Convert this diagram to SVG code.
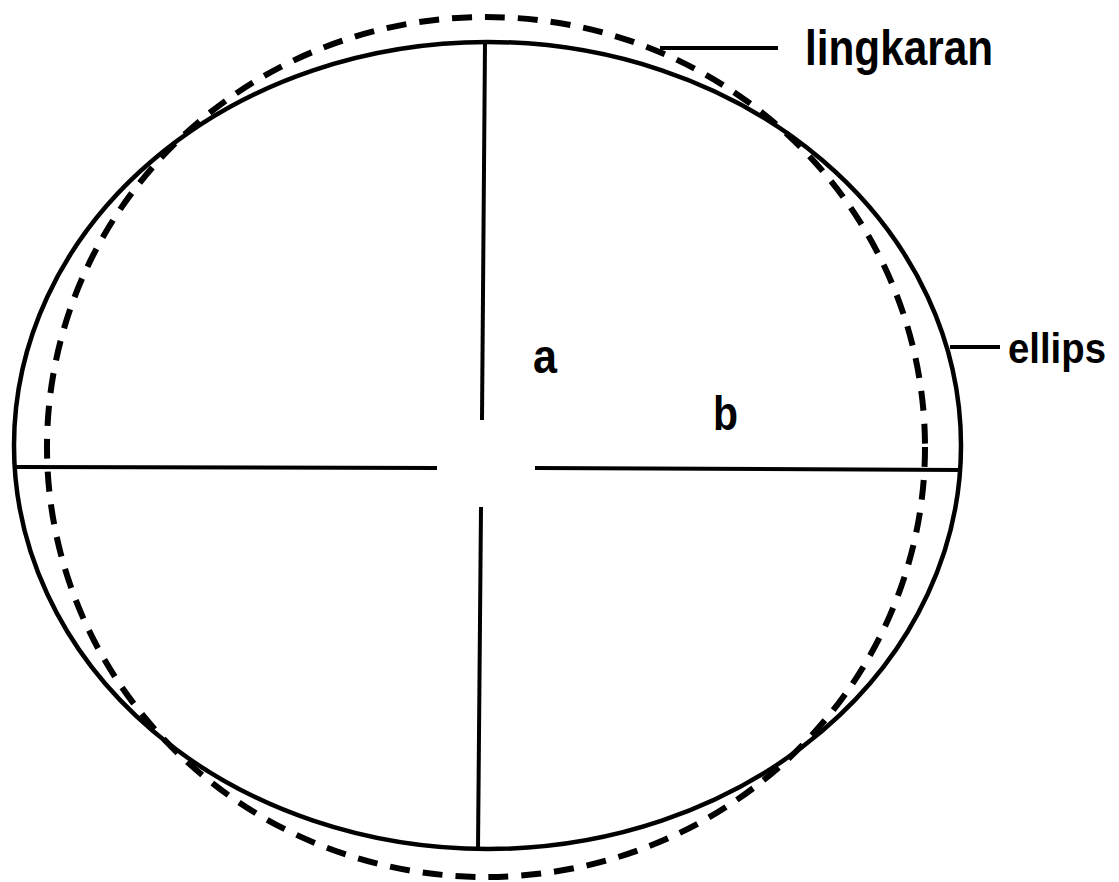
<svg xmlns="http://www.w3.org/2000/svg" width="1119" height="882" viewBox="0 0 1119 882">
<style>
.solid{fill:none;stroke:#000;stroke-width:4.5}
.dash{fill:none;stroke:#000;stroke-width:6;stroke-dasharray:20 13}
.ln{stroke:#000;stroke-width:4;fill:none}
.lbl{font-family:"Liberation Sans",Arial,sans-serif;font-weight:bold;fill:#000}
</style>
<rect width="1119" height="882" fill="#fff"/>
<g id="lingkaran-shape">
<ellipse class="dash" cx="486" cy="447" rx="439" ry="430"/>
</g>
<g id="ellips-shape">
<ellipse class="solid" cx="487.5" cy="445.5" rx="473.5" ry="403.5"/>
</g>
<g id="connectors">
<line class="ln" x1="14" y1="467" x2="437" y2="468"/>
<line class="ln" x1="535" y1="468" x2="961" y2="470"/>
<line class="ln" x1="485" y1="42" x2="482" y2="420"/>
<line class="ln" x1="481" y1="507" x2="478" y2="849"/>
<line class="ln" x1="660" y1="48" x2="778" y2="48"/>
<line class="ln" x1="950" y1="347" x2="1000" y2="347"/>
</g>
<g id="label-lingkaran"><text class="lbl" x="805" y="65" font-size="50" textLength="188" lengthAdjust="spacingAndGlyphs">lingkaran</text></g>
<g id="label-ellips"><text class="lbl" x="1008" y="363" font-size="42" textLength="98" lengthAdjust="spacingAndGlyphs">ellips</text></g>
<g id="label-a"><text class="lbl" x="533" y="373" font-size="48" textLength="24" lengthAdjust="spacingAndGlyphs">a</text></g>
<g id="label-b"><text class="lbl" x="713" y="430" font-size="48" textLength="25" lengthAdjust="spacingAndGlyphs">b</text></g>
</svg>
